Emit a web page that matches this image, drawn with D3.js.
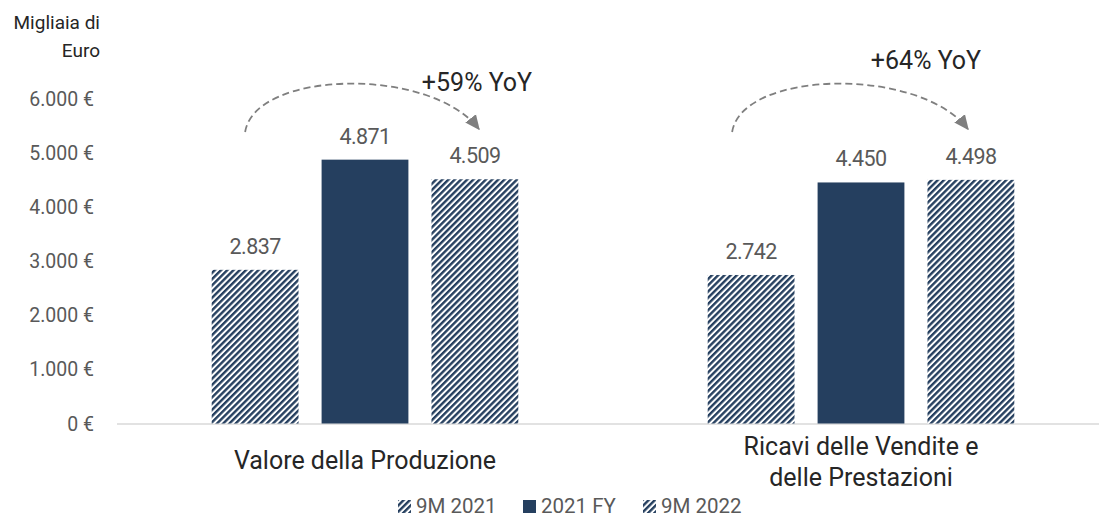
<!DOCTYPE html>
<html><head><meta charset="utf-8">
<script src="https://cdn.jsdelivr.net/npm/d3@7"></script>
<style>body{margin:0;background:#fff}svg{display:block;font-family:Roboto,"Noto Sans",sans-serif}</style>
</head><body><svg id="c" width="1099" height="518"></svg>
<script>
const categories = [["Valore della Produzione"], ["Ricavi delle Vendite e", "delle Prestazioni"]];
const series = ["9M 2021", "2021 FY", "9M 2022"];
const values9M2021 = [2837, 2742];
const valuesFY2021 = [4871, 4450];
const values9M2022 = [4509, 4498];
const yTicks = [0, 1000, 2000, 3000, 4000, 5000, 6000];
const yoyLabels = ["+59% YoY", "+64% YoY"];
const unitLabel = ["Migliaia di", "Euro"];

const NAVY = "#253f5f";
const svg = d3.select("#c");
const defs = svg.append("defs");
const P = 4.4;
const pat = defs.append("pattern").attr("id","hatch").attr("patternUnits","userSpaceOnUse")
  .attr("width",P).attr("height",P).attr("patternTransform","rotate(45)");
pat.append("rect").attr("width",P).attr("height",P).attr("fill","#fff");
pat.append("rect").attr("x",0).attr("y",0).attr("width",2.4).attr("height",P).attr("fill",NAVY);
defs.append("marker").attr("id","arr").attr("viewBox","0 0 10 10").attr("refX",9).attr("refY",5)
  .attr("markerWidth",15).attr("markerHeight",15).attr("orient","auto").attr("markerUnits","userSpaceOnUse")
  .append("path").attr("d","M0,0.5 L10,5 L0,9.5 Z").attr("fill","#7f7f7f");

const catKeys = categories.map((c,i)=>i);
const x0 = d3.scaleBand().domain(catKeys).range([117,1109]).paddingInner(0).paddingOuter(0);
const x1 = d3.scaleBand().domain(series).range([-153.3,153.3]).paddingInner(0.21).paddingOuter(0);
const y = d3.scaleLinear().domain([0,6000]).range([423.5,98.5]);
const fill = {"9M 2021":"url(#hatch)","2021 FY":NAVY,"9M 2022":"url(#hatch)"};
const data = catKeys.map(i=>({i, vals:[values9M2021[i], valuesFY2021[i], values9M2022[i]]}));

// y axis labels
const fmt = v => d3.format(",")(v).replace(/,/g,".") + " €";
svg.append("g").selectAll("text").data(yTicks).join("text")
  .attr("x",94).attr("y",d=>y(d)+7).attr("text-anchor","end")
  .attr("font-size",19.5).attr("fill","#595959").text(fmt);

svg.append("g").selectAll("text").data(unitLabel).join("text")
  .attr("x",100).attr("y",(d,i)=>29+i*28).attr("text-anchor","end")
  .attr("font-size",19).attr("fill","#262626").text(d=>d);

// baseline
svg.append("line").attr("x1",117).attr("x2",1099).attr("y1",y(0)+0.5).attr("y2",y(0)+0.5)
  .attr("stroke","#d9d9d9").attr("stroke-width",1.5);

// bars
const g = svg.append("g").selectAll("g").data(data).join("g")
  .attr("transform",d=>`translate(${x0(d.i)+x0.bandwidth()/2},0)`);
g.selectAll("rect").data(d=>d.vals.map((v,k)=>({s:series[k],v}))).join("rect")
  .attr("x",d=>x1(d.s)).attr("width",x1.bandwidth())
  .attr("y",d=>y(d.v)).attr("height",d=>y(0)-y(d.v)).attr("fill",d=>fill[d.s]);
g.selectAll("text.val").data(d=>d.vals.map((v,k)=>({s:series[k],v}))).join("text").attr("class","val")
  .attr("x",d=>x1(d.s)+x1.bandwidth()/2).attr("y",d=>y(d.v)-16).attr("text-anchor","middle")
  .attr("font-size",21.5).attr("letter-spacing",-0.6).attr("fill","#595959")
  .text(d=>d3.format(",")(d.v).replace(/,/g,"."));

// category labels
g.each(function(d){
  const lines = categories[d.i];
  const base = lines.length===1 ? 469 : 455;
  d3.select(this).selectAll("text.cat").data(lines).join("text").attr("class","cat")
    .attr("x",0).attr("y",(t,k)=>base+k*31).attr("text-anchor","middle")
    .attr("font-size",25).attr("fill","#262626").text(t=>t);
});

// YoY arrows
const arcOffsets = [[-10, 4], [-19, -3]];
const labelPos = [[112, 91], [65, 69]];
g.each(function(d){
  const s = x1(series[0]) + x1.bandwidth()/2 + arcOffsets[d.i][0];
  const e = x1(series[2]) + x1.bandwidth()/2 + arcOffsets[d.i][1];
  const sy = 132, ey = 129;
  d3.select(this).append("path")
    .attr("d",`M${s},${sy} C${s+10},70 ${e-49},66 ${e},${ey}`)
    .attr("fill","none").attr("stroke","#7f7f7f").attr("stroke-width",1.8)
    .attr("stroke-dasharray","7,4").attr("marker-end","url(#arr)");
  d3.select(this).append("text").attr("x",labelPos[d.i][0]).attr("y",labelPos[d.i][1])
    .attr("text-anchor","middle").attr("font-size",25).attr("fill","#262626").text(yoyLabels[d.i]);
});

// legend
const legX = [398, 523, 643];
const lg = svg.append("g").selectAll("g").data(series).join("g")
  .attr("transform",(d,i)=>`translate(${legX[i]},0)`);
lg.append("rect").attr("x",0).attr("y",500).attr("width",13).attr("height",13).attr("fill",d=>fill[d]);
lg.append("text").attr("x",18).attr("y",513).attr("font-size",20.5).attr("fill","#595959").text(d=>d);
</script></body></html>
